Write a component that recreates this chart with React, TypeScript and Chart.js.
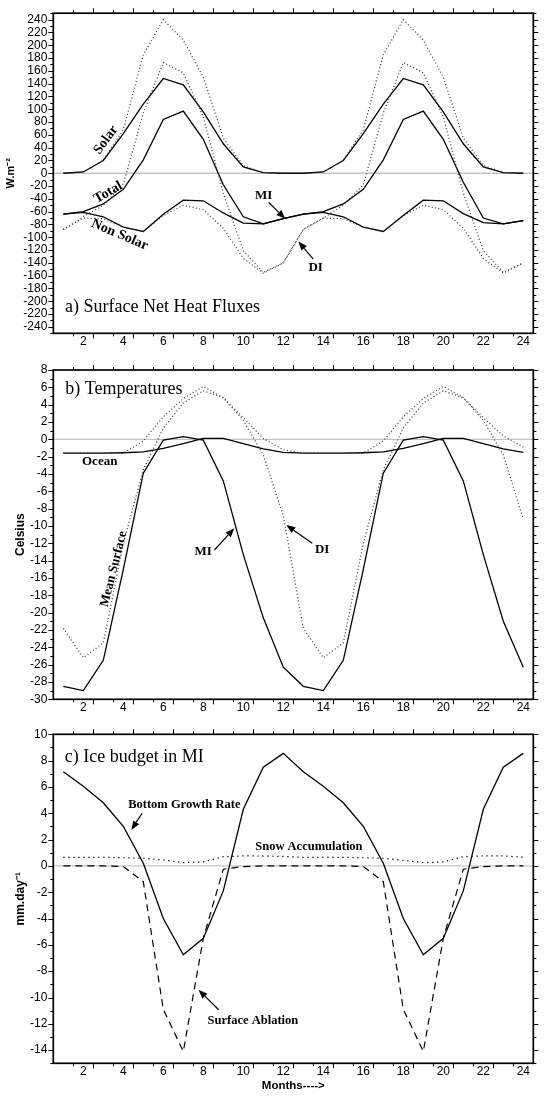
import React, { useEffect, useRef } from "react";
import { Chart, registerables } from "chart.js";

Chart.register(...registerables);
Chart.defaults.font.family = "'Liberation Sans', Arial, Helvetica, sans-serif";
Chart.defaults.color = "#000";

// ---------- data ----------
const months = [1, 2, 3, 4, 5, 6, 7, 8, 9, 10, 11, 12, 13, 14, 15, 16, 17, 18, 19, 20, 21, 22, 23, 24];
const monthTickLabels = [2, 4, 6, 8, 10, 12, 14, 16, 18, 20, 22, 24];

// a) Surface net heat fluxes (W.m-2)
const solarMI = [0, 2, 20, 62, 108, 148, 138, 96, 46, 10, 1, 0, 0, 2, 20, 62, 108, 148, 138, 96, 46, 10, 1, 0];
const solarDI = [0, 2, 20, 68, 185, 240, 208, 150, 55, 12, 1, 0, 0, 2, 20, 68, 185, 240, 208, 150, 55, 12, 1, 0];
const totalMI = [-64, -60, -48, -25, 21, 84, 97, 53, -18, -68, -79, -71, -64, -60, -48, -25, 21, 84, 97, 53, -14, -70, -79, -74];
const nonSolarMI = [-64, -61, -68, -84, -91, -64, -42, -43, -62, -78, -79, -71, -64, -61, -68, -84, -91, -66, -42, -43, -63, -77, -79, -74];
const totalDI = [-88, -68, -50, -17, 94, 173, 157, 88, -31, -121, -155, -140, -88, -70, -50, -18, 94, 173, 157, 88, -31, -121, -155, -140];
const nonSolarDI = [-88, -70, -71, -84, -91, -66, -50, -57, -86, -133, -156, -140, -88, -70, -71, -84, -91, -66, -50, -57, -86, -133, -156, -140];
const fluxTickLabels = [-240, -220, -200, -180, -160, -140, -120, -100, -80, -60, -40, -20, 0, 20, 40, 60, 80, 100, 120, 140, 160, 180, 200, 220, 240];

// b) Temperatures (Celsius)
const oceanMI = [-1.6, -1.6, -1.6, -1.55, -1.45, -1.05, -0.5, 0.1, 0.1, -0.5, -1.1, -1.5, -1.6, -1.6, -1.6, -1.55, -1.45, -1.05, -0.5, 0.1, 0.1, -0.5, -1.1, -1.5];
const surfaceMI = [-28.5, -29, -25.5, -15, -3.9, -0.1, 0.3, -0.1, -4.8, -13.3, -20.6, -26.3, -28.5, -29, -25.5, -15, -3.9, -0.1, 0.3, -0.1, -4.8, -13.3, -21, -26.3];
const oceanDI = [-1.6, -1.6, -1.6, -1.6, -0.2, 2.6, 4.7, 6.1, 4.8, 2.5, 0.1, -1.2, -1.6, -1.6, -1.6, -1.6, -0.2, 2.6, 4.7, 6.1, 4.8, 2.5, 0.4, -0.9];
const surfaceDI = [-21.8, -25.2, -23.5, -12, -3.5, 1.3, 4.2, 5.6, 4.8, 2.2, -1.8, -8.8, -21.8, -25.2, -23.5, -12, -3.5, 1.3, 4.2, 5.6, 4.8, 2.2, -1.8, -9.2];
const tempTickLabels = [-30, -28, -26, -24, -22, -20, -18, -16, -14, -12, -10, -8, -6, -4, -2, 0, 2, 4, 6, 8];

// c) Ice budget in MI (mm.day-1)
const bottomGrowth = [7.15, 6.05, 4.8, 3.0, 0.2, -4.0, -6.75, -5.5, -1.9, 4.3, 7.5, 8.55, 7.15, 6.05, 4.8, 3.0, 0.2, -4.0, -6.75, -5.5, -1.9, 4.3, 7.5, 8.55];
const snowAccumulation = [0.65, 0.65, 0.65, 0.62, 0.58, 0.45, 0.25, 0.3, 0.7, 0.76, 0.75, 0.72, 0.65, 0.65, 0.65, 0.62, 0.58, 0.42, 0.25, 0.3, 0.7, 0.76, 0.76, 0.66];
const surfaceAblation = [0, 0, 0, -0.05, -1.2, -10.9, -14.1, -5.5, -0.25, -0.05, 0, 0, 0, 0, 0, -0.05, -1.2, -10.9, -14.1, -5.5, -0.25, -0.05, 0, 0];
const iceTickLabels = [-14, -12, -10, -8, -6, -4, -2, 0, 2, 4, 6, 8, 10];

// ---------- helpers ----------
type Ann = { text: string; x: number; y: number; rot?: number; size?: number };
type Arrow = { from: [number, number]; to: [number, number] };

const SOLID = { borderColor: "#000", borderWidth: 1.3, borderDash: [] as number[] };
const DOTTED = { borderColor: "#333", borderWidth: 1.2, borderDash: [1, 2.4] };

function series(values: number[], style: any) {
  return {
    data: months.map((m, i) => ({ x: m, y: values[i] })),
    pointRadius: 0,
    tension: 0,
    fill: false,
    ...style,
  };
}

function makeDecor(cfg: {
  yMin: number;
  yMax: number;
  minor: number;
  major: number;
  title: { text: string; x: number; y: number };
  anns: Ann[];
  arrows: Arrow[];
}) {
  return {
    id: "decor",
    beforeDatasetsDraw(chart: any) {
      const { ctx, chartArea: a } = chart;
      const y0 = chart.scales.y.getPixelForValue(0);
      ctx.save();
      ctx.strokeStyle = "#c4c4c4";
      ctx.lineWidth = 1.3;
      ctx.beginPath();
      ctx.moveTo(a.left, y0);
      ctx.lineTo(a.right, y0);
      ctx.stroke();
      ctx.restore();
    },
    afterDraw(chart: any) {
      const { ctx, chartArea: a } = chart;
      const xs = chart.scales.x;
      const ys = chart.scales.y;
      ctx.save();
      ctx.strokeStyle = "#000";
      ctx.lineWidth = 1;
      ctx.beginPath();
      for (let i = 0; i < months.length - 1; i++) {
        const m = months[i];
        const px = Math.round(xs.getPixelForValue(m + 0.5)) + 0.5;
        const len = m % 2 === 0 ? 5 : 3;
        ctx.moveTo(px, a.top);
        ctx.lineTo(px, a.top - len);
        ctx.moveTo(px, a.bottom);
        ctx.lineTo(px, a.bottom + len);
      }
      for (let v = cfg.yMin; v <= cfg.yMax + 1e-9; v += cfg.minor) {
        const py = Math.round(ys.getPixelForValue(v)) + 0.5;
        const r = v / cfg.major;
        const len = Math.abs(r - Math.round(r)) < 1e-6 ? 5 : 3;
        ctx.moveTo(a.left, py);
        ctx.lineTo(a.left - len, py);
        ctx.moveTo(a.right, py);
        ctx.lineTo(a.right + len, py);
      }
      ctx.stroke();
      ctx.lineWidth = 1.7;
      ctx.strokeRect(a.left, a.top, a.right - a.left, a.bottom - a.top);

      // panel title
      ctx.fillStyle = "#000";
      ctx.font = "18px 'Liberation Serif', 'Times New Roman', serif";
      ctx.textAlign = "left";
      ctx.textBaseline = "alphabetic";
      ctx.fillText(cfg.title.text, xs.getPixelForValue(cfg.title.x), ys.getPixelForValue(cfg.title.y));

      // annotations
      ctx.textAlign = "center";
      ctx.textBaseline = "middle";
      for (const an of cfg.anns) {
        ctx.save();
        ctx.translate(xs.getPixelForValue(an.x), ys.getPixelForValue(an.y));
        ctx.rotate(((an.rot || 0) * Math.PI) / 180);
        ctx.font = `bold ${an.size || 13}px 'Liberation Serif', 'Times New Roman', serif`;
        ctx.fillText(an.text, 0, 0);
        ctx.restore();
      }
      // arrows
      ctx.lineWidth = 1.2;
      for (const ar of cfg.arrows) {
        const x1 = xs.getPixelForValue(ar.from[0]);
        const y1 = ys.getPixelForValue(ar.from[1]);
        const x2 = xs.getPixelForValue(ar.to[0]);
        const y2 = ys.getPixelForValue(ar.to[1]);
        const ang = Math.atan2(y2 - y1, x2 - x1);
        const hl = 9;
        const hw = 3.5;
        const bx = x2 - hl * Math.cos(ang);
        const by = y2 - hl * Math.sin(ang);
        ctx.beginPath();
        ctx.moveTo(x1, y1);
        ctx.lineTo(bx, by);
        ctx.stroke();
        ctx.beginPath();
        ctx.moveTo(x2, y2);
        ctx.lineTo(bx + hw * Math.sin(ang), by - hw * Math.cos(ang));
        ctx.lineTo(bx - hw * Math.sin(ang), by + hw * Math.cos(ang));
        ctx.closePath();
        ctx.fill();
      }
      ctx.restore();
    },
  };
}

type PanelProps = {
  top: number;
  height: number;
  padTop: number;
  axisH: number;
  yMin: number;
  yMax: number;
  yLabels: number[];
  minor: number;
  major: number;
  datasets: any[];
  yTitle: string;
  yTitlePad: number;
  yTitleSize: number;
  xTitle?: string;
  title: { text: string; x: number; y: number };
  anns: Ann[];
  arrows: Arrow[];
};

const W = 544;
const PLOT_LEFT = 53.3;
const PLOT_RIGHT = 533.3;

function Panel(p: PanelProps) {
  const ref = useRef<HTMLCanvasElement>(null);
  useEffect(() => {
    if (!ref.current) return;
    const chart = new Chart(ref.current, {
      type: "line",
      data: { datasets: p.datasets },
      plugins: [
        makeDecor({
          yMin: p.yMin,
          yMax: p.yMax,
          minor: p.minor,
          major: p.major,
          title: p.title,
          anns: p.anns,
          arrows: p.arrows,
        }) as any,
      ],
      options: {
        responsive: false,
        animation: false,
        maintainAspectRatio: false,
        layout: { padding: { left: 0, right: W - PLOT_RIGHT, top: p.padTop, bottom: 0 } },
        plugins: { legend: { display: false }, tooltip: { enabled: false } },
        scales: {
          x: {
            type: "linear",
            min: 0.5,
            max: 24.5,
            grid: { display: false, drawTicks: false },
            border: { display: false },
            afterBuildTicks: (s: any) => {
              s.ticks = monthTickLabels.map((v) => ({ value: v }));
            },
            afterFit: (s: any) => {
              s.height = p.axisH;
            },
            ticks: {
              autoSkip: false,
              maxRotation: 0,
              minRotation: 0,
              padding: 1,
              color: "#000",
              font: { size: 12 },
              callback: (v: any) => String(v),
            },
            title: p.xTitle
              ? {
                  display: true,
                  text: p.xTitle,
                  color: "#000",
                  font: { size: 11.5, weight: "bold" },
                  padding: { top: 0, bottom: 5.5 },
                }
              : { display: false },
          },
          y: {
            type: "linear",
            min: p.yMin,
            max: p.yMax,
            grid: { display: false, drawTicks: false },
            border: { display: false },
            afterBuildTicks: (s: any) => {
              s.ticks = p.yLabels.map((v) => ({ value: v }));
            },
            afterFit: (s: any) => {
              s.width = PLOT_LEFT;
            },
            ticks: {
              autoSkip: false,
              padding: 6,
              color: "#000",
              font: { size: 12 },
              callback: (v: any) => String(v),
            },
            title: {
              display: true,
              text: p.yTitle,
              color: "#000",
              font: { size: p.yTitleSize, weight: "bold" },
              padding: { top: p.yTitlePad, bottom: 0 },
            },
          },
        },
      } as any,
    });
    return () => chart.destroy();
  }, []);
  return (
    <canvas
      ref={ref}
      width={W}
      height={p.height}
      style={{ position: "absolute", left: 0, top: p.top, width: W, height: p.height }}
    />
  );
}

export default function App() {
  return (
    <div
      style={{
        position: "absolute",
        left: 0,
        top: 0,
        width: 544,
        height: 1098,
        overflow: "hidden",
        background: "#fff",
      }}
    >
      <Panel
        top={0}
        height={352}
        padTop={5.7}
        axisH={18.7}
        yMin={-250}
        yMax={250}
        yLabels={fluxTickLabels}
        minor={10}
        major={20}
        yTitle="W.m⁻²"
        yTitlePad={4.5}
        yTitleSize={11}
        datasets={[
          series(solarDI, DOTTED),
          series(totalDI, DOTTED),
          series(nonSolarDI, DOTTED),
          series(solarMI, SOLID),
          series(totalMI, SOLID),
          series(nonSolarMI, SOLID),
        ]}
        title={{ text: "a) Surface Net Heat Fluxes", x: 1.09, y: -216 }}
        anns={[
          { text: "Solar", x: 3.13, y: 52, rot: -54, size: 14 },
          { text: "Total", x: 3.24, y: -30, rot: -30, size: 14 },
          { text: "Non Solar", x: 3.82, y: -96, rot: 23, size: 14 },
          { text: "MI", x: 11.02, y: -35, size: 13 },
          { text: "DI", x: 13.62, y: -147, size: 13 },
        ]}
        arrows={[
          { from: [11.27, -45.7], to: [12.1, -71] },
          { from: [13.5, -134], to: [12.75, -106.5] },
        ]}
      />
      <Panel
        top={352}
        height={366}
        padTop={18}
        axisH={18.7}
        yMin={-30}
        yMax={8}
        yLabels={tempTickLabels}
        minor={1}
        major={2}
        yTitle="Celsius"
        yTitlePad={13.8}
        yTitleSize={12}
        datasets={[
          series(oceanDI, DOTTED),
          series(surfaceDI, DOTTED),
          series(oceanMI, SOLID),
          series(surfaceMI, SOLID),
        ]}
        title={{ text: "b) Temperatures", x: 1.1, y: 5.19 }}
        anns={[
          { text: "Ocean", x: 2.82, y: -2.62, size: 13 },
          { text: "Mean Surface", x: 3.52, y: -14.96, rot: -76, size: 13 },
          { text: "MI", x: 7.99, y: -12.96, size: 13 },
          { text: "DI", x: 13.94, y: -12.77, size: 13 },
        ]}
        arrows={[
          { from: [8.56, -12.77], to: [9.55, -10.27] },
          { from: [13.45, -12.0], to: [12.15, -9.88] },
        ]}
      />
      <Panel
        top={718}
        height={380}
        padTop={16.3}
        axisH={34.7}
        yMin={-15}
        yMax={10}
        yLabels={iceTickLabels}
        minor={1}
        major={2}
        yTitle="mm.day⁻¹"
        yTitlePad={13.8}
        yTitleSize={12}
        xTitle="Months---->"
        datasets={[
          series(snowAccumulation, { borderColor: "#000", borderWidth: 1.2, borderDash: [1.3, 3.7] }),
          series(surfaceAblation, { borderColor: "#000", borderWidth: 1.2, borderDash: [7, 5] }),
          series(bottomGrowth, SOLID),
        ]}
        title={{ text: "c) Ice budget in MI", x: 1.07, y: 7.93 }}
        anns={[
          { text: "Bottom Growth Rate", x: 7.05, y: 4.67, size: 12.5 },
          { text: "Snow Accumulation", x: 13.28, y: 1.43, size: 12.5 },
          { text: "Surface Ablation", x: 10.48, y: -11.77, size: 12.5 },
        ]}
        arrows={[
          { from: [4.94, 4.0], to: [4.4, 2.73] },
          { from: [8.77, -10.93], to: [7.76, -9.42] },
        ]}
      />
    </div>
  );
}
